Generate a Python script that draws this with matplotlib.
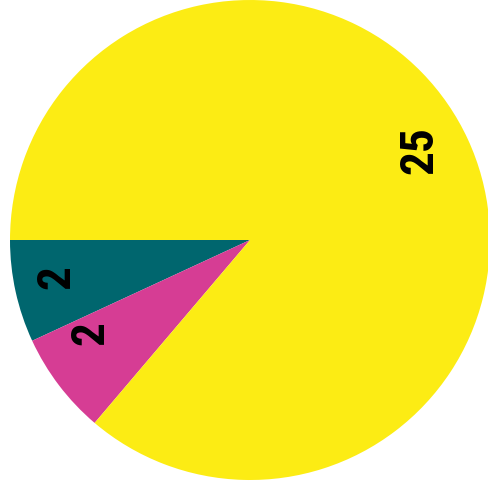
import matplotlib.pyplot as plt
import numpy as np

# slice data (counterclockwise from the left horizontal)
values = [2, 2, 25]
labels = ["2", "2", "25"]
colors = ["#00666e", "#d63d94", "#fcec14"]

# small label nudges (degrees, radius) so text sits like the reference
label_shift = [-1.5, -7.0, 3.0]
label_r = [0.82, 0.77, 0.80]

fig = plt.figure(figsize=(4.88, 4.90), dpi=100)
ax = fig.add_axes([10 / 488, 10 / 490, 480 / 488, 480 / 490])

wedges, _ = ax.pie(values, colors=colors, startangle=180, counterclock=True,
                   radius=1.0, wedgeprops=dict(linewidth=0))

for w, lab, ds, r in zip(wedges, labels, label_shift, label_r):
    mid = np.deg2rad((w.theta1 + w.theta2) / 2 + ds)
    ax.text(r * np.cos(mid), r * np.sin(mid), lab, rotation=90,
            ha="center", va="center", fontsize=34, fontweight="bold",
            family=["Roboto Condensed", "Fira Sans Condensed", "Liberation Sans"],
            color="black")

ax.set_xlim(-1, 1)
ax.set_ylim(-1, 1)
ax.set_aspect("equal")
ax.axis("off")

fig.savefig("out.png", dpi=100)
